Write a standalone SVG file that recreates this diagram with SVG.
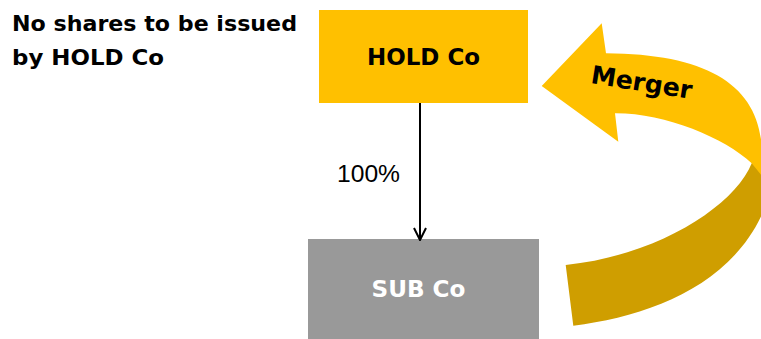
<svg xmlns="http://www.w3.org/2000/svg" width="761" height="339" viewBox="0 0 761 339">
  <style>
    .lbl { font-family: "DejaVu Sans", "Liberation Sans", sans-serif; font-weight: bold; }
    .pct { font-family: "Liberation Sans", Arial, sans-serif; font-size: 24px; fill: #000; }
    .edge { stroke: #000; stroke-width: 2; fill: none; }
  </style>
  <defs>
    <marker id="chevron" viewBox="0 0 14 14" refX="13" refY="7" markerWidth="14" markerHeight="14" markerUnits="userSpaceOnUse" orient="auto">
      <path d="M1,1 L13,7 L1,13" fill="none" stroke="#000" stroke-width="2"/>
    </marker>
  </defs>

  <rect width="761" height="339" fill="#fff"/>

  <!-- caption -->
  <g id="caption" class="lbl" font-size="22" fill="#000">
    <text x="12" y="30.5" textLength="285" lengthAdjust="spacingAndGlyphs">No shares to be issued</text>
    <text x="12" y="65" textLength="152" lengthAdjust="spacingAndGlyphs">by HOLD Co</text>
  </g>

  <!-- merger ribbon arrow: shaded back half, then bright front half with head -->
  <g id="merger">
    <path d="M751.7,163.3 C735,205 660,255 565.7,265 L573.3,325.7 C650,316 735,285 766,205 L768,151 Z" fill="#CF9E00"/>
    <path d="M606,53.3 L601.7,23.3 L541.7,86 L618.3,141.7 L615,113.3 C665,113 725,138 751.7,163.3 L762,176 L762,157 C763,90 715,54 606,53.3 Z" fill="#FFC000"/>
    <text class="lbl" font-size="25" fill="#000" transform="translate(590,83) rotate(9)" textLength="102" lengthAdjust="spacingAndGlyphs">Merger</text>
  </g>

  <!-- HOLD Co -->
  <g id="hold-co">
    <rect x="319" y="10" width="209" height="93" fill="#FFC000"/>
    <text class="lbl" x="423.5" y="65" font-size="23" fill="#000" text-anchor="middle" textLength="113" lengthAdjust="spacingAndGlyphs">HOLD Co</text>
  </g>

  <!-- SUB Co -->
  <g id="sub-co">
    <rect x="308" y="239" width="231" height="100" fill="#999999"/>
    <text class="lbl" x="418.5" y="297" font-size="23" fill="#fff" text-anchor="middle" textLength="94" lengthAdjust="spacingAndGlyphs">SUB Co</text>
  </g>

  <!-- ownership connector -->
  <g id="connectors">
    <line class="edge" x1="420" y1="103" x2="420" y2="240" marker-end="url(#chevron)"/>
    <text class="pct" x="337" y="181.5" textLength="63" lengthAdjust="spacingAndGlyphs">100%</text>
  </g>
</svg>
